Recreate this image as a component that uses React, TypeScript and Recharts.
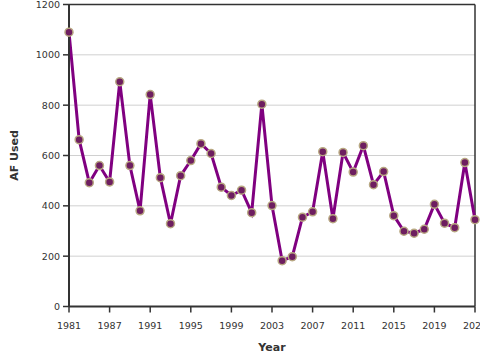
import React from "react";
import {
  LineChart,
  Line,
  XAxis,
  YAxis,
  CartesianGrid,
  Label,
  ReferenceLine,
} from "recharts";

const years: number[] = [
  1981, 1982, 1983, 1984, 1985, 1986, 1987, 1988, 1989, 1990,
  1991, 1992, 1993, 1994, 1995, 1996, 1997, 1998, 1999, 2000,
  2001, 2002, 2003, 2004, 2005, 2006, 2007, 2008, 2009, 2010,
  2011, 2012, 2013, 2014, 2015, 2016, 2017, 2018, 2019, 2020,
  2021,
];

const afUsed: number[] = [
  1090, 663, 492, 560, 495, 893, 560, 380, 842, 512,
  329, 520, 580, 647, 608, 474, 441, 462, 373, 804,
  401, 182, 198, 355, 376, 615, 349, 612, 534, 639,
  484, 536, 361, 299, 291, 307, 406, 331, 313, 572,
  345,
];

const tickYears: number[] = [1981, 1985, 1989, 1993, 1997, 2001, 2005, 2009, 2013, 2017, 2021];
const tickLabels: string[] = ["1981", "1987", "1991", "1995", "1999", "2003", "2007", "2011", "2015", "2019", "2023"];
const yTicks: number[] = [0, 200, 400, 600, 800, 1000, 1200];

const data = years.map((y, i) => ({ year: y, value: afUsed[i] }));

const FONT = "'DejaVu Sans', sans-serif";
const AXIS = "#333333";

const tickStyle = { fontSize: 9.5, fill: "#333333", fontFamily: FONT };

export default function App() {
  return (
    <div style={{ position: "absolute", left: 0, top: 0, width: 480, height: 360 }}>
      <LineChart
        width={480}
        height={360}
        data={data}
        margin={{ top: 4.5, right: 5, left: 9, bottom: 13.5 }}
      >
        <CartesianGrid vertical={false} stroke="#d0d0d0" strokeWidth={1} />
        <XAxis
          dataKey="year"
          type="number"
          domain={[1981, 2021]}
          ticks={tickYears}
          tickFormatter={(v: number) => tickLabels[tickYears.indexOf(v)] ?? String(v)}
          height={40}
          axisLine={{ stroke: AXIS, strokeWidth: 2 }}
          tickLine={{ stroke: AXIS, strokeWidth: 1.5 }}
          tickSize={6}
          tickMargin={10}
          tick={tickStyle}
          interval={0}
        >
          <Label
            content={(props: any) => {
              const vb = props.viewBox || {};
              return (
                <text
                  x={vb.x + vb.width / 2}
                  y={vb.y + 41}
                  textAnchor="middle"
                  dominantBaseline="central"
                  style={{ fontFamily: FONT, fontSize: 11, fontWeight: "bold", fill: "#333333" }}
                >
                  Year
                </text>
              );
            }}
          />
        </XAxis>
        <YAxis
          domain={[0, 1200]}
          ticks={yTicks}
          width={60}
          axisLine={{ stroke: AXIS, strokeWidth: 2 }}
          tickLine={{ stroke: AXIS, strokeWidth: 1.5 }}
          tickSize={6}
          tickMargin={3}
          tick={tickStyle}
          interval={0}
          allowDataOverflow
        >
          <Label
            content={(props: any) => {
              const vb = props.viewBox || {};
              const cx = vb.x + 5;
              const cy = vb.y + vb.height / 2;
              return (
                <text
                  x={cx}
                  y={cy}
                  textAnchor="middle"
                  dominantBaseline="central"
                  transform={`rotate(-90, ${cx}, ${cy})`}
                  style={{ fontFamily: FONT, fontSize: 11, fontWeight: "bold", fill: "#333333" }}
                >
                  AF Used
                </text>
              );
            }}
          />
        </YAxis>
        <ReferenceLine y={1200} stroke={AXIS} strokeWidth={1.5} ifOverflow="visible" />
        <ReferenceLine x={2021} stroke={AXIS} strokeWidth={1.5} ifOverflow="visible" />
        <Line
          type="linear"
          dataKey="value"
          stroke="#800080"
          strokeWidth={3}
          dot={{ r: 4, fill: "#6e1e60", stroke: "#b8a882", strokeWidth: 1.5 }}
          isAnimationActive={false}
        />
      </LineChart>
    </div>
  );
}
